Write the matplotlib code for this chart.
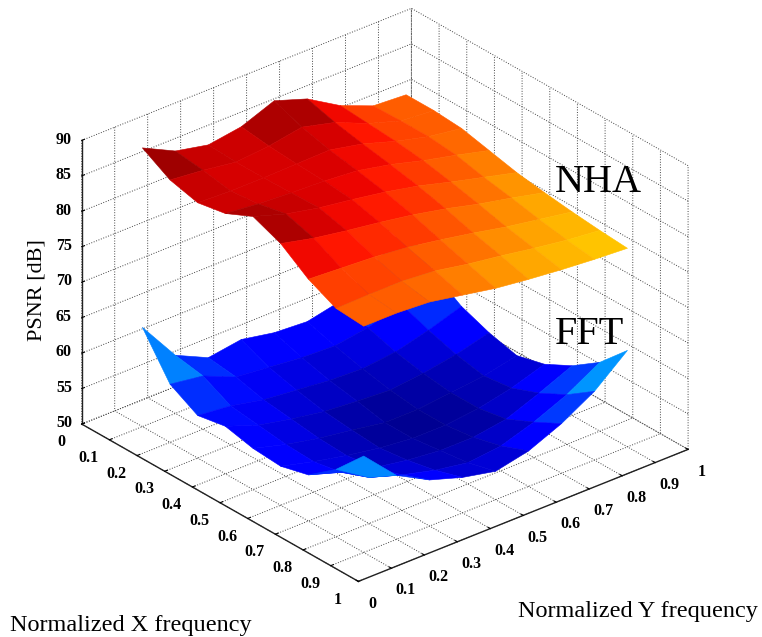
import matplotlib
matplotlib.use('Agg')
import matplotlib.pyplot as plt
import numpy as np

# grid of the measured frequencies
freq = [0.1, 0.2, 0.3, 0.4, 0.5, 0.6, 0.7, 0.8, 0.9]

# PSNR [dB], rows = X frequency, columns = Y frequency
nha = [
    [89.3, 87.0, 86.0, 86.7, 88.5, 86.9, 84.1, 82.2, 81.9],
    [87.0, 86.5, 85.8, 86.2, 87.0, 85.8, 83.8, 82.3, 81.9],
    [86.0, 85.8, 85.8, 85.9, 86.0, 85.0, 83.5, 82.3, 81.6],
    [86.7, 86.2, 85.9, 85.7, 85.3, 84.3, 83.0, 81.9, 80.7],
    [88.5, 87.0, 86.0, 85.3, 84.5, 83.5, 82.2, 81.0, 79.8],
    [86.9, 85.8, 85.0, 84.3, 83.5, 82.5, 81.3, 80.3, 79.2],
    [84.1, 83.8, 83.5, 83.0, 82.2, 81.3, 80.3, 79.5, 78.7],
    [82.2, 82.3, 82.3, 81.9, 81.0, 80.3, 79.5, 78.8, 78.3],
    [81.9, 81.9, 81.6, 80.7, 79.8, 79.2, 78.7, 78.3, 78.0],
]
fft = [
    [64.0, 58.2, 56.0, 56.7, 55.8, 55.5, 56.5, 59.5, 63.6],
    [58.2, 57.5, 55.5, 55.0, 54.5, 54.3, 55.0, 56.5, 59.0],
    [56.0, 55.5, 54.5, 54.0, 53.5, 53.3, 53.8, 55.0, 56.5],
    [56.7, 55.0, 54.0, 53.2, 52.8, 52.5, 53.0, 53.8, 55.0],
    [55.8, 54.5, 53.5, 52.8, 52.0, 52.0, 52.5, 53.0, 54.0],
    [55.5, 54.3, 53.3, 52.5, 52.0, 52.0, 52.5, 53.5, 55.0],
    [56.5, 55.0, 53.8, 53.0, 52.5, 52.5, 53.2, 55.0, 57.0],
    [59.5, 56.5, 55.0, 53.8, 53.0, 53.5, 55.0, 57.0, 59.7],
    [63.6, 59.0, 56.5, 55.0, 54.0, 55.0, 57.0, 59.7, 63.6],
]

xy_ticks = [0, 0.1, 0.2, 0.3, 0.4, 0.5, 0.6, 0.7, 0.8, 0.9, 1]
xy_labels = ['0', '0.1', '0.2', '0.3', '0.4', '0.5', '0.6', '0.7', '0.8', '0.9', '1']
z_ticks = [50, 55, 60, 65, 70, 75, 80, 85, 90]

plt.rcParams['font.family'] = ['Liberation Serif', 'DejaVu Serif']
plt.rcParams['grid.linestyle'] = ':'
plt.rcParams['grid.linewidth'] = 0.7
plt.rcParams['grid.color'] = '#444444'

fig = plt.figure(figsize=(7.62, 6.37), dpi=100)
ax = fig.add_axes([-4.7 / 762, 15 / 637, 1, 1], projection='3d', proj_type='ortho', computed_zorder=False)
ax.view_init(elev=28.5, azim=-40)
ax.set_box_aspect((1, 1, 0.75), zoom=1.05)

X, Y = np.meshgrid(freq, freq, indexing='ij')
for vals, norm in ((fft, plt.Normalize(51.5, 83)), (nha, plt.Normalize(54.5, 88.5))):
    Z = np.array(vals)
    # colour each facet by its mean height, like flat shading on jet
    C = (Z[:-1, :-1] + Z[1:, :-1] + Z[:-1, 1:] + Z[1:, 1:]) / 4
    cols = plt.cm.jet(norm(C))
    surf = ax.plot_surface(X, Y, Z, facecolors=cols, rstride=1, cstride=1,
                           shade=False, linewidth=0.4, antialiased=True)

ax.set_xlim(0, 1)
ax.set_ylim(0, 1)
ax.set_zlim(50, 90)
ax.set_xticks(xy_ticks)
ax.set_xticklabels(xy_labels, fontsize=11.5, fontweight='bold', va='bottom')
ax.set_yticks(xy_ticks)
ax.set_yticklabels(xy_labels, fontsize=11.5, fontweight='bold', va='center')
ax.set_zticks(z_ticks)
ax.set_zticklabels([str(v) for v in z_ticks], fontsize=11.5, fontweight='bold', va='center')
ax.zaxis.set_ticks_position('lower')
ax.tick_params(axis='x', pad=7)
ax.tick_params(axis='y', pad=4)
ax.tick_params(axis='z', pad=-1)

for axis in (ax.xaxis, ax.yaxis, ax.zaxis):
    axis.set_pane_color((1, 1, 1, 0))
    axis.pane.set_edgecolor((1, 1, 1, 0))
    axis.line.set_color('#222222')
    axis.line.set_linewidth(1.0)
    axis._axinfo['tick']['inward_factor'] = 0
    axis._axinfo['tick']['outward_factor'] = 0.1

fig.text(555 / 762, 1 - 183 / 637, 'NHA', fontsize=29, va='center')
fig.text(555 / 762, 1 - 334 / 637, 'FFT', fontsize=29, va='center')
fig.text(37 / 762, 1 - 290 / 637, 'PSNR [dB]', fontsize=16, rotation=90, ha='center', va='center')
fig.text(10 / 762, 1 - 625 / 637, 'Normalized X frequency', fontsize=17.5, va='center')
fig.text(518 / 762, 1 - 612 / 637, 'Normalized Y frequency', fontsize=17.5, va='center')

fig.savefig('out.png', dpi=100)
